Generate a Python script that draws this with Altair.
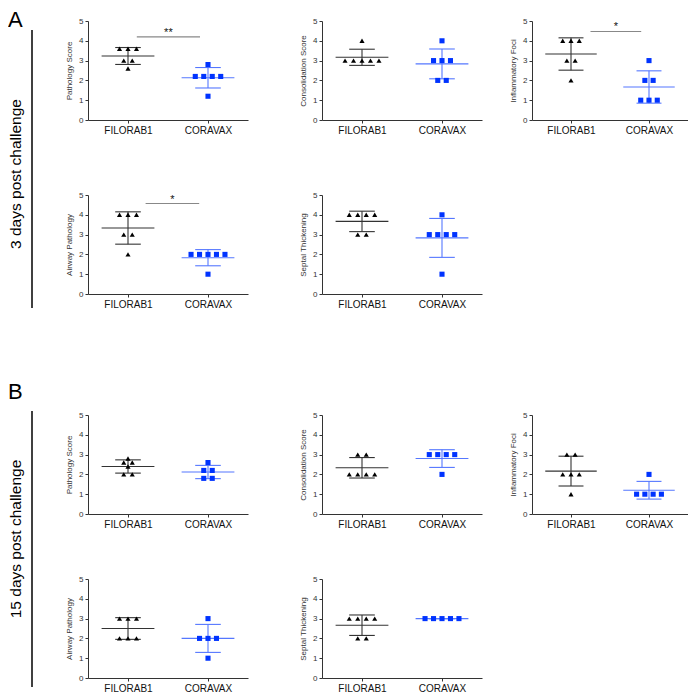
import altair as alt
import pandas as pd
import numpy as np

FONT = "Liberation Sans"
groups = ["FILORAB1", "CORAVAX"]

# ---- Day 3 post challenge (section A) ----
a_path_fil = [3.6, 3.6, 3.6, 3.0, 3.0, 2.6]
a_path_cor = [2.8, 2.2, 2.2, 2.2, 2.2, 1.2]
a_cons_fil = [4, 3, 3, 3, 3, 3]
a_cons_cor = [4, 3, 3, 3, 2, 2]
a_infl_fil = [4, 4, 4, 3, 3, 2]
a_infl_cor = [3, 2, 2, 1, 1, 1]
a_airw_fil = [4, 4, 4, 3, 3, 2]
a_airw_cor = [2, 2, 2, 2, 2, 1]
a_sept_fil = [4, 4, 4, 4, 3, 3]
a_sept_cor = [4, 3, 3, 3, 3, 1]

# ---- Day 15 post challenge (section B) ----
b_path_fil = [2.8, 2.6, 2.6, 2.4, 2.0, 2.0]
b_path_cor = [2.6, 2.2, 2.2, 1.8, 1.8]
b_cons_fil = [3, 3, 2, 2, 2, 2]
b_cons_cor = [3, 3, 3, 3, 2]
b_infl_fil = [3, 3, 2, 2, 2, 1]
b_infl_cor = [2, 1, 1, 1, 1]
b_airw_fil = [3, 3, 3, 2, 2, 2]
b_airw_cor = [3, 2, 2, 2, 1]
b_sept_fil = [3, 3, 3, 3, 2, 2]
b_sept_cor = [3, 3, 3, 3, 3]

# significance annotations: (start, end in category units, height, label)
sig_a_path = (0.11, 0.90, 4.2, "**")
sig_a_infl = (0.25, 0.90, 4.47, "*")
sig_a_airw = (0.22, 0.89, 4.57, "*")

point_colors = {"FILORAB1": "#000000", "CORAVAX": "#0033ff"}
line_colors = {"FILORAB1": "#333333", "CORAVAX": "#5577ff"}
shapes = {"FILORAB1": "triangle-up", "CORAVAX": "square"}

SPREAD = 0.106   # horizontal spread of tied points (category units)
MEAN_HALF = 0.33
CAP_HALF = 0.16
W, H = 160, 99


def X(field):
    return alt.X(field, type="quantitative",
                 scale=alt.Scale(domain=[-0.5, 1.5], nice=False, zero=False),
                 axis=alt.Axis(values=[0, 1], title=None, grid=False,
                               labelExpr="datum.value == 0 ? 'FILORAB1' : 'CORAVAX'",
                               labelFontSize=10, labelFont=FONT, labelColor="#111",
                               labelPadding=2, tickSize=3, tickColor="#333",
                               domainColor="#333", labelOverlap=False))


def Y(field, ytitle):
    return alt.Y(field, type="quantitative",
                 scale=alt.Scale(domain=[0, 5], nice=False),
                 axis=alt.Axis(values=[0, 1, 2, 3, 4, 5], title=ytitle, grid=False,
                               titleFontSize=8, titleFont=FONT, titleFontWeight="normal",
                               titleColor="#333", titlePadding=5,
                               labelFontSize=8, labelFont=FONT, labelColor="#333",
                               labelPadding=2, tickSize=3, tickColor="#333",
                               domainColor="#333"))


def panel(fil, cor, ytitle, sig=None, width=W):
    rows, summ = [], []
    for gi, (g, vals) in enumerate(zip(groups, [fil, cor])):
        counts = {}
        for v in vals:
            counts[v] = counts.get(v, 0) + 1
        seen = {}
        for v in vals:
            k = seen.get(v, 0)
            seen[v] = k + 1
            n = counts[v]
            rows.append(dict(g=g, v=v, xp=gi + (k - (n - 1) / 2) * SPREAD,
                             pc=point_colors[g], sh=shapes[g]))
        arr = np.array(vals, dtype=float)
        m = arr.mean()
        sd = arr.std(ddof=1)
        summ.append(dict(g=g, gx=gi, mean=m, lo=m - sd, hi=m + sd,
                         m1=gi - MEAN_HALF, m2=gi + MEAN_HALF,
                         c1=gi - CAP_HALF, c2=gi + CAP_HALF, lc=line_colors[g]))
    pts = pd.DataFrame(rows)
    sm = pd.DataFrame(summ)
    col = alt.Color("lc:N", scale=None)
    base = alt.Chart(sm)
    mean_l = base.mark_rule(strokeWidth=1.1).encode(x=X("m1"), x2="m2", y=Y("mean", ytitle), color=col)
    cap_hi = base.mark_rule(strokeWidth=1.1).encode(x=X("c1"), x2="c2", y=Y("hi", ytitle), color=col)
    cap_lo = base.mark_rule(strokeWidth=1.1).encode(x=X("c1"), x2="c2", y=Y("lo", ytitle), color=col)
    vert = base.mark_rule(strokeWidth=1.1).encode(x=X("gx"), y=Y("lo", ytitle), y2="hi", color=col)
    points = alt.Chart(pts).mark_point(filled=True, opacity=1, size=26).encode(
        x=X("xp"), y=Y("v", ytitle),
        color=alt.Color("pc:N", scale=None),
        shape=alt.Shape("sh:N", scale=None))
    layers = [mean_l, cap_hi, cap_lo, vert, points]
    if sig is not None:
        s1, s2, sy, lab = sig
        sdf = pd.DataFrame([dict(s1=s1, s2=s2, sm=(s1 + s2) / 2, sy=sy, lab=lab)])
        sbase = alt.Chart(sdf)
        layers.append(sbase.mark_rule(color="#888888", strokeWidth=1.1).encode(
            x=X("s1"), x2="s2", y=Y("sy", ytitle)))
        layers.append(sbase.mark_text(fontSize=11, font=FONT, color="#111",
                                      baseline="bottom", dy=1).encode(
            x=X("sm"), y=Y("sy", ytitle), text="lab:N"))
    return alt.layer(*layers).properties(width=width, height=H)


def side_label(letter, ly, text, height, y1, y2, ty):
    base = alt.Chart(pd.DataFrame({"k": [0]}))
    rule = base.mark_rule(color="black", strokeWidth=1.5).encode(
        x=alt.value(24), y=alt.value(y1), y2=alt.value(y2))
    txt = base.mark_text(angle=270, fontSize=15.5, font=FONT, align="center",
                         baseline="middle", color="black").encode(
        x=alt.value(7.5), y=alt.value(ty), text=alt.value(text))
    let = base.mark_text(fontSize=22, font=FONT, align="left",
                         baseline="top", color="black").encode(
        x=alt.value(0), y=alt.value(ly), text=alt.value(letter))
    return alt.layer(rule, txt, let).properties(width=30, height=height)


A1 = panel(a_path_fil, a_path_cor, "Pathology Score", sig_a_path)
A2 = panel(a_cons_fil, a_cons_cor, "Consolidation Score")
A3 = panel(a_infl_fil, a_infl_cor, "Inflammatory Foci", sig_a_infl, width=156)
A4 = panel(a_airw_fil, a_airw_cor, "Airway Pathology", sig_a_airw)
A5 = panel(a_sept_fil, a_sept_cor, "Septal Thickening")

B1 = panel(b_path_fil, b_path_cor, "Pathology Score")
B2 = panel(b_cons_fil, b_cons_cor, "Consolidation Score")
B3 = panel(b_infl_fil, b_infl_cor, "Inflammatory Foci", width=156)
B4 = panel(b_airw_fil, b_airw_cor, "Airway Pathology")
B5 = panel(b_sept_fil, b_sept_cor, "Septal Thickening")

panelsA = alt.vconcat(
    alt.hconcat(A1, alt.hconcat(A2, A3, spacing=27), spacing=51),
    alt.hconcat(A4, A5, spacing=51),
    spacing=56)
secA = alt.hconcat(side_label("A", -11, "3 days post challenge", 288, 9, 287, 153),
                   panelsA, spacing=27)

panelsB = alt.vconcat(
    alt.hconcat(B1, alt.hconcat(B2, B3, spacing=27), spacing=51),
    alt.hconcat(B4, B5, spacing=51),
    spacing=46)
secB = alt.hconcat(side_label("B", -33, "15 days post challenge", 274, -4, 272, 124),
                   panelsB, spacing=27)

chart = alt.vconcat(secA, secB, spacing=72).properties(
    padding={"top": 1, "left": 0, "right": 0, "bottom": 0}).configure(
    font=FONT, view=alt.ViewConfig(stroke=None))

chart.save("out.html", embed_options={"renderer": "svg", "actions": False})
